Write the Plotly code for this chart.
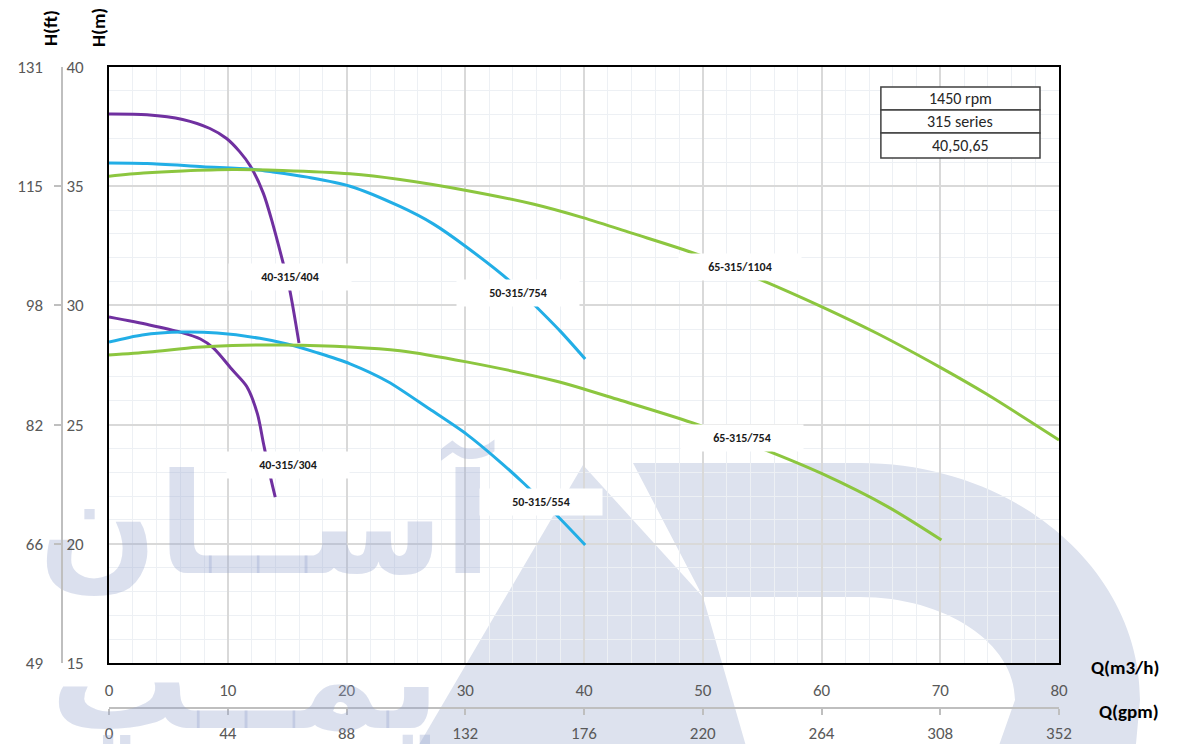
import plotly.graph_objects as go

# ---------------- data ----------------
q_404 = [0, 3.2, 6.2, 8.5, 9.9, 11.0, 11.9, 13.0, 13.8, 14.6, 15.2, 16.0]
h_404 = [38.03, 38.0, 37.8, 37.42, 37.0, 36.45, 35.85, 34.7, 33.4, 31.9, 30.7, 28.42]

q_b754 = [0, 3.2, 7.9, 11.9, 13.8, 16.7, 20.3, 24.5, 27.3, 30.1, 33.8, 35.7, 38.0, 40.1]
h_b754 = [35.97, 35.95, 35.82, 35.72, 35.6, 35.38, 35.0, 34.15, 33.42, 32.45, 31.0, 30.08, 28.92, 27.75]

q_g1104 = [0, 2.9, 6.2, 10.4, 14.6, 20.3, 24.5, 30.1, 35.7, 39.9, 44.1, 49.5, 55.1, 59.9, 64.7, 70.0, 73.9, 80]
h_g1104 = [35.42, 35.55, 35.64, 35.7, 35.66, 35.52, 35.28, 34.82, 34.25, 33.68, 33.02, 32.15, 31.03, 29.97, 28.82, 27.4, 26.28, 24.35]

q_304 = [0, 3.4, 6.0, 7.7, 8.8, 10.4, 11.6, 12.5, 13.0, 13.6, 14.0]
h_304 = [29.51, 29.18, 28.88, 28.59, 28.21, 27.29, 26.6, 25.45, 24.23, 22.80, 21.96]

q_b554 = [0, 2.8, 6.2, 9.1, 12.7, 15.0, 17.5, 20.3, 23.5, 27.0, 30.1, 32.9, 34.9, 37.6, 40.1]
h_b554 = [28.46, 28.76, 28.88, 28.84, 28.62, 28.38, 28.02, 27.55, 26.8, 25.65, 24.6, 23.45, 22.55, 21.25, 19.95]

q_g754 = [0, 3.4, 7.4, 10.4, 14.6, 20.3, 24.5, 30.1, 37.6, 43.0, 49.1, 55.2, 60.0, 65.6, 70.1]
h_g754 = [27.92, 28.05, 28.24, 28.32, 28.34, 28.26, 28.1, 27.63, 26.83, 26.03, 25.08, 23.95, 22.95, 21.55, 20.16]

series_names = ["40-315/404", "50-315/754", "65-315/1104", "40-315/304", "50-315/554", "65-315/754"]
label_q = [15.24, 34.44, 53.14, 15.07, 36.4, 53.3]
label_h = [31.19, 30.52, 31.61, 23.31, 21.75, 24.44]

q_ticks = [0, 10, 20, 30, 40, 50, 60, 70, 80]
gpm_labels = ["0", "44", "88", "132", "176", "220", "264", "308", "352"]
m_ticks = [15, 20, 25, 30, 35, 40]
ft_labels = ["49", "66", "82", "98", "115", "131"]
info_rows = ["1450 rpm", "315 series", "40,50,65"]
watermark_words = ["آســان", "پمــپ"]

PURPLE = "#7030a0"
BLUE = "#22aee6"
GREEN = "#8cc63f"

# the page body adds an 8px offset; the figure is sized so it ends at the window edge
OFF = 8
W, H = 1179 - OFF, 744 - OFF
ML, MR, MT, MB = 2, 120, 59, 10
PW = W - ML - MR        # 1049
PH = H - MT - MB        # 667


def px_x(px):  # screen pixel -> paper fraction
    return (px - OFF - ML) / PW


def px_y(py):
    return (OFF + H - MB - py) / PH


def px_q(px):  # screen pixel -> data (decoration placement only)
    return (px - 109) / 950 * 80


def px_h(py):
    return 15 + (663 - py) / 596 * 25


fig = go.Figure()

WM_TEXT = "rgba(150,165,205,0.34)"
# watermark lettering (decoration, drawn first so curves sit on top)
fig.add_trace(go.Scatter(
    x=[px_q(265)], y=[px_h(538)], mode="text",
    text=[watermark_words[0]], textposition="middle center", cliponaxis=False,
    textfont=dict(family="DejaVu Sans", size=140, weight="bold", color=WM_TEXT),
    hoverinfo="skip", showlegend=False))

curves = [
    (q_404, h_404, PURPLE),
    (q_b754, h_b754, BLUE),
    (q_g1104, h_g1104, GREEN),
    (q_304, h_304, PURPLE),
    (q_b554, h_b554, BLUE),
    (q_g754, h_g754, GREEN),
]
for (qs, hs, col), name in zip(curves, series_names):
    fig.add_trace(go.Scatter(x=qs, y=hs, mode="lines", name=name,
                             line=dict(color=col, width=3, shape="spline", smoothing=0.8),
                             hoverinfo="skip", showlegend=False))

# empty traces to activate the secondary axes
fig.add_trace(go.Scatter(x=[], y=[], xaxis="x", yaxis="y2", showlegend=False))
fig.add_trace(go.Scatter(x=[], y=[], xaxis="x", yaxis="y3", showlegend=False))
fig.add_trace(go.Scatter(x=[], y=[], xaxis="x2", yaxis="y", showlegend=False))

TICKFONT = dict(family="Carlito, Lato, 'Liberation Sans', sans-serif", size=17, color="#595959")
xdom = [px_x(109), px_x(1059)]
ydom = [px_y(663), px_y(67)]

fig.update_layout(
    width=W, height=H,
    margin=dict(l=ML, r=MR, t=MT, b=MB, autoexpand=False),
    paper_bgcolor="white", plot_bgcolor="rgba(0,0,0,0)",
    showlegend=False,
    xaxis=dict(domain=xdom, range=[0, 80], tickvals=q_ticks, ticks="", showline=True,
               linecolor="black", linewidth=2, mirror=True, zeroline=False,
               showgrid=True, gridcolor="#d9d9d9", gridwidth=1.5,
               minor=dict(dtick=2, showgrid=True, gridcolor="#edf0f4", gridwidth=1),
               tickfont=TICKFONT, ticklabelstandoff=11, anchor="y"),
    yaxis=dict(domain=ydom, range=[15, 40], tickvals=m_ticks, showticklabels=False, ticks="",
               showline=True, linecolor="black", linewidth=2, mirror=True, zeroline=False,
               showgrid=True, gridcolor="#d9d9d9", gridwidth=1.5,
               minor=dict(dtick=1, showgrid=True, gridcolor="#edf0f4", gridwidth=1),
               anchor="x"),
    yaxis2=dict(overlaying="y", anchor="free", position=px_x(62), side="right",
                range=[15, 40], tickvals=m_ticks, ticks="inside", ticklen=7,
                tickcolor="#bfbfbf", tickwidth=1.5, showline=True, linecolor="#bfbfbf",
                linewidth=2, showgrid=False, zeroline=False, tickfont=TICKFONT),
    yaxis3=dict(overlaying="y", anchor="free", position=px_x(62), side="left",
                range=[15, 40], tickvals=m_ticks, ticktext=ft_labels, ticks="",
                showline=False, showgrid=False, zeroline=False, tickfont=TICKFONT,
                ticklabelstandoff=19),
    xaxis2=dict(overlaying="x", anchor="free", position=px_y(708), side="bottom",
                range=[0, 80], tickvals=q_ticks, ticktext=gpm_labels, ticks="outside",
                ticklen=6, tickcolor="#bfbfbf", tickwidth=1.5, showline=True,
                linecolor="#bfbfbf", linewidth=2, showgrid=False, zeroline=False,
                tickfont=TICKFONT, ticklabelstandoff=4),
)

# ---------------- watermark shapes (decoration) ----------------
WM = "#dde2ee"


def P(x, y):
    return f"{px_x(x):.5f},{px_y(y):.5f}"


path_a = f"M{P(583,465)} L{P(410,760)} L{P(750,760)} L{P(703,597)} Z"
cx, cy, rx, ry = 860, 700, 280, 237
irx, iry = 155, 103
k = 0.5523
path_d = (f"M{P(633,463)} L{P(cx,cy-ry)} "
          f"C{P(cx+k*rx,cy-ry)} {P(cx+rx,cy-k*ry)} {P(cx+rx,cy)} "
          f"L{P(1136,744)} L{P(1134,760)} L{P(986,760)} L{P(cx+irx*0.9,744)} L{P(cx+irx,cy)} "
          f"C{P(cx+irx,cy-k*iry)} {P(cx+k*irx,cy-iry)} {P(cx,cy-iry)} "
          f"L{P(703,597)} Z")
for pth in (path_a, path_d):
    fig.add_shape(type="path", path=pth, xref="paper", yref="paper",
                  fillcolor=WM, line=dict(width=0), layer="below")

# second watermark line lies below the plot area -> paper-referenced annotation
fig.add_annotation(text=f"<b>{watermark_words[1]}</b>", xref="paper", yref="paper",
                   x=px_x(245), y=px_y(680), xanchor="center", yanchor="middle",
                   showarrow=False, font=dict(family="DejaVu Sans", size=140, color=WM_TEXT))

# ---------------- curve labels ----------------
for name, lq, lh in zip(series_names, label_q, label_h):
    fig.add_annotation(x=lq, y=lh, xref="x", yref="y", text=f"<b>{name}</b>", showarrow=False,
                       xanchor="center", yanchor="middle",
                       bgcolor="white", width=120, height=24,
                       font=dict(family="Carlito, 'Liberation Sans Narrow', Lato, sans-serif",
                                 size=12, color="#1a1a1a"))

# ---------------- info table ----------------
row_edges = [39.16, 38.2, 37.23, 36.18]
for i, txt in enumerate(info_rows):
    fig.add_shape(type="rect", x0=65.0, x1=78.4, y0=row_edges[i + 1], y1=row_edges[i],
                  xref="x", yref="y", line=dict(color="#404040", width=1.5), fillcolor="white")
    fig.add_annotation(x=71.7, y=(row_edges[i] + row_edges[i + 1]) / 2, xref="x", yref="y",
                       text=txt, showarrow=False, xanchor="center", yanchor="middle",
                       font=dict(family="Carlito, Lato, sans-serif", size=16, color="#262626"))

# ---------------- axis titles ----------------
TF = dict(family="Carlito, Lato, 'Liberation Sans', sans-serif", size=19, color="black")
for txt, xx, yy, ang in [("<b>H(ft)</b>", 51, 28, -90), ("<b>H(m)</b>", 99, 28, -90),
                         ("<b>Q(m3/h)</b>", 1125, 667, 0), ("<b>Q(gpm)</b>", 1129, 711, 0)]:
    fig.add_annotation(text=txt, xref="paper", yref="paper", x=px_x(xx), y=px_y(yy),
                       xanchor="center", yanchor="middle", textangle=ang,
                       showarrow=False, font=TF)

fig.write_html("out.html")
